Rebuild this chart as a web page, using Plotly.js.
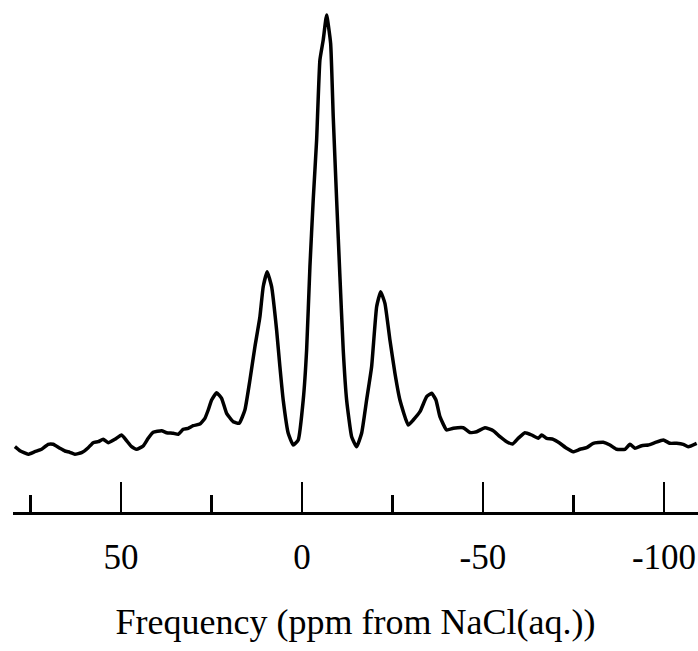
<!DOCTYPE html>
<html>
<head>
<meta charset="utf-8">
<script src="https://cdn.plot.ly/plotly-3.0.1.min.js"></script>
<style>html,body{margin:0;padding:0;background:#fff;}#chart{width:698px;height:651px;}</style>
</head>
<body>
<div id="chart"></div>
<script>
// Frequency (ppm) and intensity (arbitrary units)
const ppm = [79.28,77.90,75.61,73.76,71.91,70.08,68.70,66.85,65.47,64.09,62.71,60.86,59.03,57.65,56.27,54.89,53.51,51.66,49.81,48.43,47.04,45.66,43.84,42.46,41.08,38.76,37.38,35.55,34.17,32.79,31.41,30.03,28.18,26.80,25.88,24.94,23.56,22.18,20.80,18.98,17.32,15.75,14.36,12.98,11.60,10.69,9.59,8.37,6.99,6.08,5.17,3.78,2.40,1.02,-0.36,-1.30,-2.21,-3.12,-4.06,-4.97,-5.88,-6.82,-7.93,-8.65,-9.59,-10.50,-11.41,-12.35,-13.73,-15.11,-16.49,-17.87,-19.25,-20.64,-21.74,-22.93,-24.31,-25.69,-27.07,-29.36,-30.75,-32.60,-34.45,-35.83,-37.02,-38.12,-39.97,-41.80,-44.56,-46.41,-48.26,-50.55,-52.85,-54.70,-56.55,-58.20,-59.75,-61.60,-63.45,-65.28,-66.22,-67.60,-69.42,-71.27,-73.12,-74.94,-76.80,-78.65,-80.47,-83.23,-85.08,-86.93,-89.23,-90.61,-91.99,-93.84,-95.66,-97.51,-99.81,-101.66,-103.51,-105.33,-106.71,-109.03];
const intensity = [13.06,12.26,11.54,12.06,12.54,13.54,13.54,12.74,12.2,11.94,11.54,11.86,12.86,13.86,14.06,14.54,13.86,14.54,15.4,14.26,13.06,12.54,13.2,14.74,15.94,16.26,15.86,15.74,15.54,16.54,16.74,17.26,17.6,18.74,20.4,22.4,23.86,22.74,19.74,18.06,17.74,20.4,26.4,33.06,39.06,45.06,48.06,45.06,36.4,29.06,22.4,15.74,13.4,14.4,22.4,32.4,49.06,62.4,74.4,90.4,94.4,99.4,93.74,79.06,62.4,47.06,32.4,22.4,15.06,13.06,15.74,22.4,29.06,41.06,44.06,41.74,34.4,27.74,22.4,17.4,18.4,20.06,23.06,23.74,22.4,19.06,16.4,16.74,16.86,15.9,16.06,16.86,16.26,15.06,14.06,13.6,14.74,15.86,15.4,14.74,15.4,14.74,14.54,13.74,12.74,12.06,12.54,12.86,13.74,13.94,13.4,12.54,12.54,13.54,12.74,13.26,13.4,13.86,14.4,13.74,13.74,13.54,13.06,13.74];
const majorTicks = [50, 0, -50, -100];
const majorLabels = ['50', '0', '-50', '-100'];
const minorTicks = [75, 25, -25, -75];
const xTitle = 'Frequency (ppm from NaCl(aq.))';

const trace = {
  x: ppm, y: intensity, type: 'scatter', mode: 'lines',
  line: {color: '#000', width: 3.5, shape: 'spline', smoothing: 0.4},
  hoverinfo: 'none'
};
const layout = {
  width: 698, height: 651,
  margin: {l: 13, r: 0, t: 0, b: 139, pad: 0},
  paper_bgcolor: '#fff', plot_bgcolor: '#fff',
  showlegend: false,
  font: {family: '"Liberation Serif", "Times New Roman", serif', color: '#000'},
  xaxis: {
    range: [79.8, -109.4],
    showgrid: false, zeroline: false,
    showline: true, linecolor: '#000', linewidth: 2.5,
    tickmode: 'array', tickvals: majorTicks, ticktext: majorLabels,
    ticks: 'inside', ticklen: 30, tickwidth: 2.5, tickcolor: '#000',
    ticklabelstandoff: 12,
    tickfont: {size: 35, family: '"Liberation Serif", serif', color: '#000'},
    minor: {tickmode: 'array', tickvals: minorTicks, ticks: 'inside', ticklen: 17, tickwidth: 2.5, tickcolor: '#000', showgrid: false},
    title: {text: xTitle, font: {size: 36, family: '"Liberation Serif", serif', color: '#000'}, standoff: 34}
  },
  yaxis: {range: [0, 102.4], visible: false, showgrid: false, zeroline: false}
};
Plotly.newPlot('chart', [trace], layout, {staticPlot: true, displayModeBar: false});
</script>
</body>
</html>
